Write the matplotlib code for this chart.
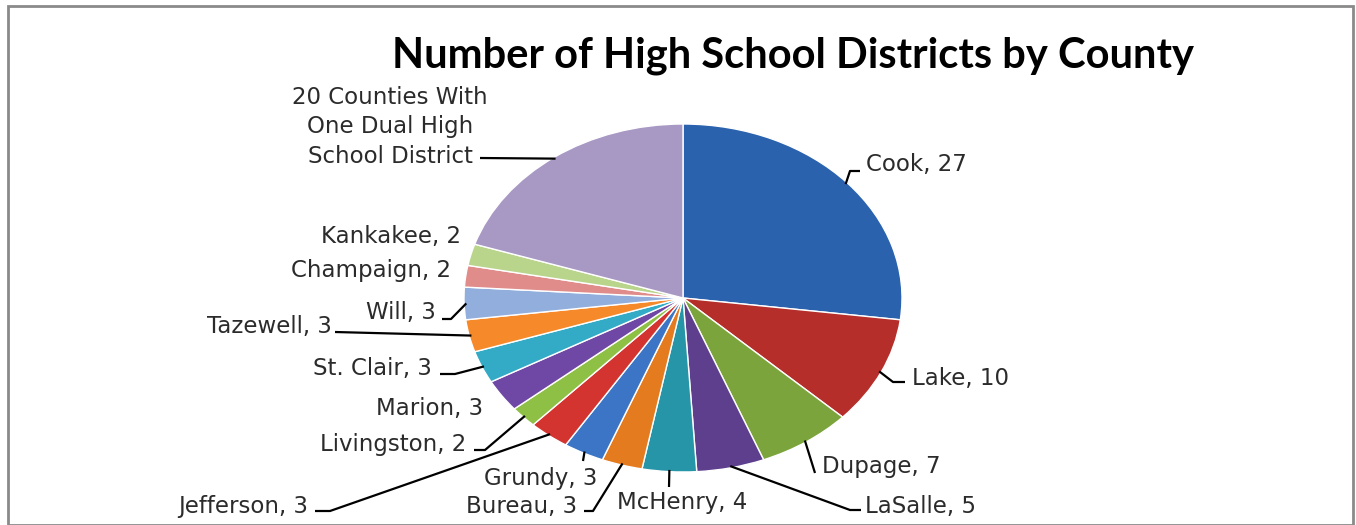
import numpy as np
import matplotlib
matplotlib.use("Agg")
import matplotlib.pyplot as plt
from matplotlib.patches import Rectangle

# data
counties = ["Cook", "Lake", "Dupage", "LaSalle", "McHenry", "Bureau", "Grundy",
            "Jefferson", "Livingston", "Marion", "St. Clair", "Tazewell", "Will",
            "Champaign", "Kankakee", "20 Counties With\nOne Dual High\nSchool District"]
districts = [27, 10, 7, 5, 4, 3, 3, 3, 2, 3, 3, 3, 3, 2, 2, 20]
colors = ["#2B62AD", "#B52E2A", "#7BA53C", "#5E3F8E", "#2795A8", "#E47B1F",
          "#3C74C6", "#D3342F", "#8DC044", "#6F48A6", "#33ABC6", "#F6892A",
          "#91AEDD", "#DF8C8A", "#B9D48B", "#A898C4"]

# layout (pixels): label anchor x, y, ha, and leader points after the wedge edge
label_pos = [(866, 165, "left"), (912, 378, "left"), (822, 466, "left"),
             (865, 506, "left"), (617, 503, "left"), (577, 507, "right"),
             (597, 479, "right"), (308, 507, "right"), (466, 444, "right"),
             (483, 409, "right"), (432, 368, "right"), (332, 327, "right"),
             (436, 312, "right"), (451, 270, "right"), (461, 237, "right"),
             (390, 127, "center")]
leaders = [[(850, 171), (860, 171)], [(893, 382), (905, 382)], [(815, 473)],
           [(850, 510), (861, 510)], [(669, 487)], [(593, 511), (584, 511)],
           [(583, 461)], [(330, 511), (315, 511)], [(485, 450), (474, 450)],
           None, [(455, 374), (440, 374)], [(335, 332)],
           [(451, 319), (442, 319)], None, None, [(480, 158)]]

W, H = 1356, 525
cx, cy, rx, ry = 683, 298, 219, 174

fig = plt.figure(figsize=(W / 100, H / 100), dpi=100)
ax = fig.add_axes([0, 0, 1, 1])

def px(x, y):
    return (x - cx) / rx, (cy - y) / ry

ax.pie(districts, colors=colors, startangle=90, counterclock=False,
       wedgeprops=dict(edgecolor="white", linewidth=1.0))
ax.set_aspect("auto")
ax.set_xlim(-cx / rx, (W - cx) / rx)
ax.set_ylim((cy - H) / ry, cy / ry)
ax.axis("off")

total = sum(districts)
cum = np.cumsum([0] + districts)
for i, name in enumerate(counties):
    mid = (cum[i] + cum[i + 1]) / 2 / total
    ang = np.deg2rad(90 - 360 * mid)
    ex, ey = np.cos(ang) * 0.99, np.sin(ang) * 0.99
    if leaders[i]:
        pts = [(ex, ey)] + [px(*p) for p in leaders[i]]
        ax.plot([p[0] for p in pts], [p[1] for p in pts], color="black", lw=1.6,
                solid_capstyle="butt")
    x, y, ha = label_pos[i]
    tx, ty = px(x, y)
    txt = name if "\n" in name else f"{name}, {districts[i]}"
    ax.text(tx, ty, txt, ha=ha, va="center", fontsize=16.5, color="#2b2b2b",
            family="DejaVu Sans", linespacing=1.38, multialignment="center")

fig.text(793 / W, 1 - 56 / H, "Number of High School Districts by County",
         ha="center", va="center", fontsize=30, fontweight="bold",
         family="Lato", color="black")

fig.patches.append(Rectangle((8 / W, 0), 1345 / W, 1 - 6 / H, transform=fig.transFigure,
                             fill=False, edgecolor="#8a8a8a", linewidth=2))

fig.savefig("out.png", dpi=100)
